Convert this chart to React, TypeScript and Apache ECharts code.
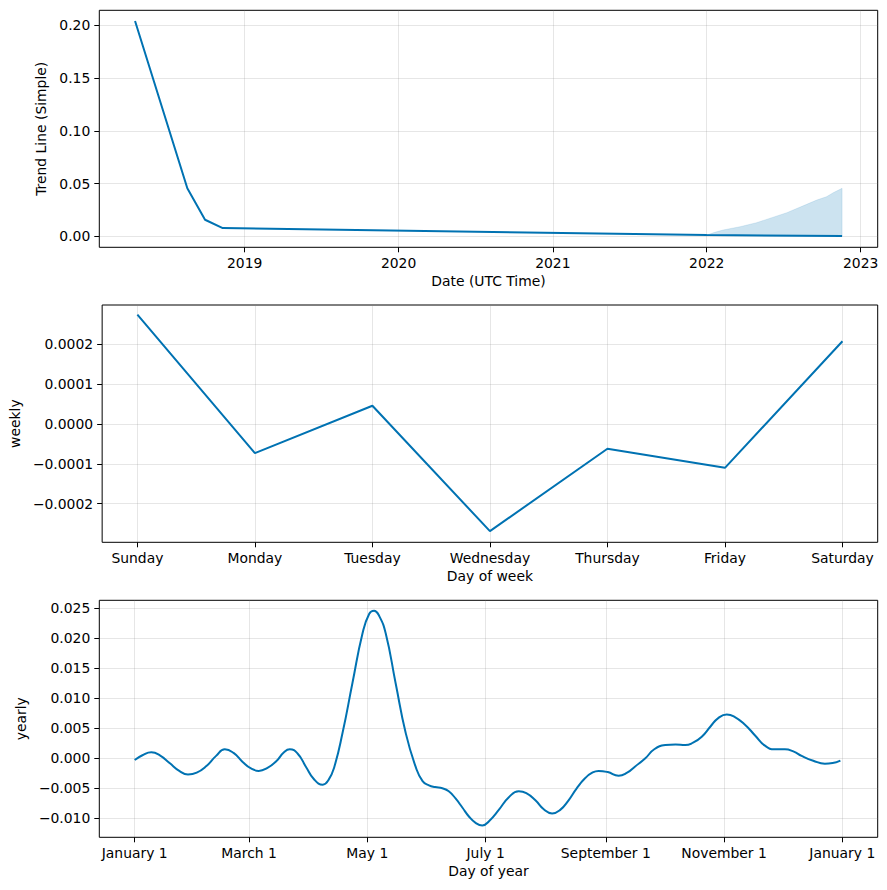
import React, { useEffect, useRef } from 'react';
import * as echarts from 'echarts';

// ---- Trend panel ----
const TREND_DATES = ['2018-04-16', '2018-08-18', '2018-09-29', '2018-11-10', '2022-01-01', '2022-11-18'];
const TREND_VALUES = [0.204, 0.0455, 0.0157, 0.0078, 0.0012, 0.0002];
const BAND_DATES = ['2022-01-01', '2022-01-20', '2022-02-09', '2022-03-21', '2022-04-29', '2022-07-10', '2022-08-26', '2022-09-19', '2022-10-12', '2022-10-28', '2022-11-18'];
const BAND_UPPER = [0.0012, 0.0038, 0.006, 0.0091, 0.0129, 0.0224, 0.0303, 0.0344, 0.0375, 0.0413, 0.0455];
const BAND_LOWER = [0.0012, 0.0011, 0.0011, 0.001, 0.0008, 0.0006, 0.0004, 0.0004, 0.0003, 0.0003, 0.0002];
const YEAR_TICKS = [2019, 2020, 2021, 2022, 2023];
const TREND_Y_TICKS = [0, 0.05, 0.1, 0.15, 0.2];

// ---- Weekly panel ----
const WEEK_DAYS = ['Sunday', 'Monday', 'Tuesday', 'Wednesday', 'Thursday', 'Friday', 'Saturday'];
const WEEK_VALUES = [0.000275, -0.000073, 0.000046, -0.000269, -0.000062, -0.00011, 0.000208];
const WEEK_Y_TICKS = [-0.0002, -0.0001, 0, 0.0001, 0.0002];

// ---- Yearly panel ----
const YEAR_DAYS = [0, 4, 8.6, 13, 18, 23, 27.5, 32, 37, 42, 46.5, 51, 55.7, 60, 64, 68.5, 73, 77, 80, 84, 88.3, 92.5, 97, 100, 103, 107.2, 112.3, 117.5, 121, 123.5, 126, 129.5, 134.6, 139.8, 144.9, 148.5, 151.8, 155, 158.7, 162, 165.5, 169, 172.4, 176, 179.3, 183, 187.8, 193, 198.1, 202, 206.7, 211, 215.3, 219.5, 223.8, 228, 232.4, 236, 239.3, 244, 249.6, 254, 258, 263.4, 268, 273.7, 279, 284, 288, 292.5, 297, 301, 305.4, 309, 314.8, 320, 325.1, 330, 335.4, 340, 344, 350, 356, 360, 364];
const YEAR_VALUES = [-0.0003, 0.0005, 0.001, 0.0005, -0.0008, -0.0021, -0.0027, -0.0024, -0.0013, 0.0004, 0.0015, 0.0009, -0.0006, -0.0017, -0.0021, -0.0016, -0.0005, 0.001, 0.0015, 0.0008, -0.0014, -0.0035, -0.0044, -0.0036, -0.0014, 0.0042, 0.0125, 0.0208, 0.0241, 0.0246, 0.0238, 0.0208, 0.0125, 0.0042, -0.0014, -0.0038, -0.0045, -0.0048, -0.005, -0.0055, -0.0067, -0.0082, -0.0097, -0.0108, -0.0112, -0.0104, -0.0086, -0.0065, -0.0055, -0.0058, -0.007, -0.0085, -0.0092, -0.0086, -0.007, -0.005, -0.0033, -0.0024, -0.0021, -0.0023, -0.0029, -0.0024, -0.0014, 0, 0.0015, 0.0022, 0.0023, 0.0022, 0.0026, 0.0036, 0.0053, 0.0067, 0.0073, 0.007, 0.0056, 0.0038, 0.0021, 0.0015, 0.0015, 0.0011, 0.0004, -0.0004, -0.0009, -0.0008, -0.0004];
const MONTH_TICK_DAYS = [0, 59, 120, 181, 243, 304, 365];
const MONTH_TICK_LABELS = ['January 1', 'March 1', 'May 1', 'July 1', 'September 1', 'November 1', 'January 1'];
const YEARLY_Y_TICKS = [-0.01, -0.005, 0, 0.005, 0.01, 0.015, 0.02, 0.025];

const BLUE = '#0072B2';
const FONT = 'DejaVu Sans';
const FS = 13.9;

function ts(s: string): number {
  const [y, m, d] = s.split('-').map(Number);
  return Date.UTC(y, m - 1, d);
}
function fmt(v: number, digits: number): string {
  const s = Math.abs(v).toFixed(digits);
  return v < -1e-12 ? '\u2212' + s : s;
}

const splitLine = { show: true, lineStyle: { color: 'rgba(128,128,128,0.2)', width: 1 } };
const tickBase = { show: true, inside: false, length: 5, lineStyle: { color: '#000', width: 1 } };
const labelBase = { color: '#000', fontFamily: FONT, fontSize: FS, margin: 9 };
const nameStyle = { color: '#000', fontFamily: FONT, fontSize: FS };

function xAxis(gridIndex: number, min: number, max: number, ticks: number[], formatter: (v: number) => string, name: string) {
  return {
    gridIndex,
    type: 'value',
    position: 'bottom',
    min,
    max,
    name,
    nameLocation: 'middle',
    nameGap: 27,
    nameTextStyle: nameStyle,
    axisLine: { show: false, onZero: false },
    axisTick: { ...tickBase, customValues: ticks },
    axisLabel: { ...labelBase, customValues: ticks, formatter, showMinLabel: true, showMaxLabel: true },
    splitLine,
  };
}
function yAxis(gridIndex: number, min: number, max: number, ticks: number[], digits: number, name: string, nameGap: number) {
  return {
    gridIndex,
    type: 'value',
    position: 'left',
    min,
    max,
    name,
    nameLocation: 'middle',
    nameGap,
    nameTextStyle: nameStyle,
    axisLine: { show: false, onZero: false },
    axisTick: { ...tickBase, customValues: ticks },
    axisLabel: { ...labelBase, customValues: ticks, formatter: (v: number) => fmt(v, digits) },
    splitLine,
  };
}

export default function App() {
  const ref = useRef<HTMLDivElement>(null);
  useEffect(() => {
    const chart = echarts.init(ref.current!, null, { renderer: 'svg' });
    const gridBase = { left: 99.3, width: 778.4, show: true, borderColor: '#000', borderWidth: 1, backgroundColor: 'transparent' };
    const bandUpperPts = BAND_DATES.map((d, i) => [ts(d), BAND_UPPER[i]]);
    const bandLowerPts = BAND_DATES.map((d, i) => [ts(d), BAND_LOWER[i]]);
    const option: any = {
      animation: false,
      backgroundColor: '#fff',
      grid: [
        { ...gridBase, top: 10.3, height: 237 },
        { ...gridBase, top: 305, height: 237.3 },
        { ...gridBase, top: 600.3, height: 237 },
      ],
      xAxis: [
        xAxis(
          0,
          Date.UTC(2018, 0, 21, 5),
          Date.UTC(2023, 1, 10, 12),
          YEAR_TICKS.map((y) => Date.UTC(y, 0, 1)),
          (v: number) => String(new Date(v).getUTCFullYear()),
          'Date (UTC Time)'
        ),
        xAxis(1, -0.3, 6.3, WEEK_DAYS.map((_, i) => i), (v: number) => WEEK_DAYS[Math.round(v)] ?? '', 'Day of week'),
        xAxis(
          2,
          -18.25,
          383.25,
          MONTH_TICK_DAYS,
          (v: number) => MONTH_TICK_LABELS[MONTH_TICK_DAYS.indexOf(Math.round(v))] ?? '',
          'Day of year'
        ),
      ],
      yAxis: [
        yAxis(0, -0.0104, 0.2142, TREND_Y_TICKS, 2, 'Trend Line (Simple)', 43),
        yAxis(1, -0.000297, 0.000299, WEEK_Y_TICKS, 4, 'weekly', 73),
        yAxis(2, -0.01317, 0.02633, YEARLY_Y_TICKS, 3, 'yearly', 63),
      ],
      series: [
        {
          type: 'custom',
          xAxisIndex: 0,
          yAxisIndex: 0,
          data: [bandUpperPts[0]],
          silent: true,
          z: 1,
          renderItem: (_params: any, api: any) => {
            const pts = bandUpperPts.map((p) => api.coord(p)).concat(bandLowerPts.slice().reverse().map((p) => api.coord(p)));
            return {
              type: 'polygon',
              shape: { points: pts },
              style: { fill: 'rgba(0,114,178,0.2)', stroke: 'rgba(0,114,178,0.12)', lineWidth: 1 },
            };
          },
        },
        {
          type: 'line',
          xAxisIndex: 0,
          yAxisIndex: 0,
          data: TREND_DATES.map((d, i) => [ts(d), TREND_VALUES[i]]),
          symbol: 'none',
          lineStyle: { color: BLUE, width: 2 },
          z: 3,
        },
        {
          type: 'line',
          xAxisIndex: 1,
          yAxisIndex: 1,
          data: WEEK_VALUES.map((v, i) => [i, v]),
          symbol: 'none',
          lineStyle: { color: BLUE, width: 2 },
          z: 3,
        },
        {
          type: 'line',
          xAxisIndex: 2,
          yAxisIndex: 2,
          data: YEAR_DAYS.map((d, i) => [d, YEAR_VALUES[i]]),
          symbol: 'none',
          smooth: 0.5,
          lineStyle: { color: BLUE, width: 2 },
          z: 3,
        },
      ],
    };
    chart.setOption(option);
    return () => chart.dispose();
  }, []);
  return <div ref={ref} style={{ position: 'absolute', left: 0, top: 0, width: 887, height: 890 }} />;
}
